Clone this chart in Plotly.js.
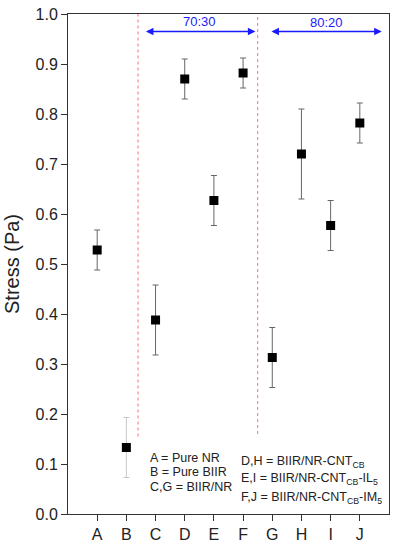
<!DOCTYPE html>
<html><head><meta charset="utf-8">
<script src="https://cdn.plot.ly/plotly-3.0.1.min.js"></script>
<style>html,body{margin:0;padding:0;background:#fff}#chart{width:394px;height:550px}</style>
</head><body><div id="chart"></div>
<script>
var categories = ['A','B','C','D','E','F','G','H','I','J'];
var positions = [1,2,3,4,5,6,7,8,9,10];
var stress = [0.528,0.133,0.388,0.870,0.627,0.882,0.313,0.720,0.577,0.782];
var errors = [0.040,0.060,0.070,0.040,0.050,0.030,0.060,0.090,0.050,0.040];
var lightIdx = [1]; // B drawn with lighter error bar

var main = {x:[],y:[],e:[]}, light = {x:[],y:[],e:[]};
positions.forEach(function(p,i){
  var t = lightIdx.indexOf(i) >= 0 ? light : main;
  t.x.push(p); t.y.push(stress[i]); t.e.push(errors[i]);
});
function tr(d, ecol){
  return {x:d.x, y:d.y, type:'scatter', mode:'markers',
    marker:{symbol:'square', size:9, color:'#000'},
    error_y:{type:'data', array:d.e, visible:true, color:ecol, thickness:1, width:3},
    showlegend:false, hoverinfo:'skip'};
}
var data = [tr(main,'#666'), tr(light,'#c8c8c8')];

var blue = '#1a1aff';
var layout = {
  width:394, height:550,
  margin:{l:68, r:5, t:14, b:36},
  paper_bgcolor:'#fff', plot_bgcolor:'#fff',
  font:{family:'Arial, Liberation Sans, sans-serif', color:'#222'},
  xaxis:{range:[0,11], tickvals:positions, ticktext:categories, ticks:'outside', ticklen:6,
    tickcolor:'#333', showline:true, linecolor:'#333', linewidth:1, mirror:true,
    showgrid:false, zeroline:false, tickfont:{size:16, color:'#222'}},
  yaxis:{range:[0,1], dtick:0.1, tickformat:'.1f', ticks:'outside', ticklen:6,
    tickcolor:'#333', showline:true, linecolor:'#333', linewidth:1, mirror:true,
    showgrid:false, zeroline:false, tickfont:{size:16, color:'#222'},
    title:{text:'Stress (Pa)', font:{size:20, color:'#222'}, standoff:10}},
  shapes:[
    {type:'line', xref:'x', yref:'y', x0:2.4, x1:2.4, y0:0.155, y1:1, line:{color:'#ff7070', width:1, dash:'dot'}},
    {type:'line', xref:'x', yref:'y', x0:6.5, x1:6.5, y0:0.16, y1:1, line:{color:'#ff7070', width:1, dash:'dot'}}
  ],
  annotations:[
    {x:6.42, y:0.965, ax:2.62, ay:0.965, xref:'x', yref:'y', axref:'x', ayref:'y', text:'', showarrow:true,
      arrowhead:2, startarrowhead:2, arrowside:'end+start', arrowsize:1, arrowwidth:1.5, arrowcolor:blue},
    {x:10.75, y:0.965, ax:6.92, ay:0.965, xref:'x', yref:'y', axref:'x', ayref:'y', text:'', showarrow:true,
      arrowhead:2, startarrowhead:2, arrowside:'end+start', arrowsize:1, arrowwidth:1.5, arrowcolor:blue},
    {x:4.52, y:0.986, xref:'x', yref:'y', text:'70:30', showarrow:false, font:{size:13, color:blue}},
    {x:8.85, y:0.983, xref:'x', yref:'y', text:'80:20', showarrow:false, font:{size:13, color:blue}},
    {x:2.74, y:0.113, xref:'x', yref:'y', xanchor:'left', text:'A = Pure NR', showarrow:false, font:{size:12.5}},
    {x:2.74, y:0.084, xref:'x', yref:'y', xanchor:'left', text:'B = Pure BIIR', showarrow:false, font:{size:12.5}},
    {x:2.74, y:0.055, xref:'x', yref:'y', xanchor:'left', text:'C,G = BIIR/NR', showarrow:false, font:{size:12.5}},
    {x:5.85, y:0.104, xref:'x', yref:'y', xanchor:'left', text:'D,H = BIIR/NR-CNT<sub>CB</sub>', showarrow:false, font:{size:12.5}},
    {x:5.85, y:0.070, xref:'x', yref:'y', xanchor:'left', text:'E,I = BIIR/NR-CNT<sub>CB</sub>-IL<sub>5</sub>', showarrow:false, font:{size:12.5}},
    {x:5.85, y:0.033, xref:'x', yref:'y', xanchor:'left', text:'F,J = BIIR/NR-CNT<sub>CB</sub>-IM<sub>5</sub>', showarrow:false, font:{size:12.5}}
  ]
};
Plotly.newPlot('chart', data, layout, {displayModeBar:false, staticPlot:true});
</script></body></html>
